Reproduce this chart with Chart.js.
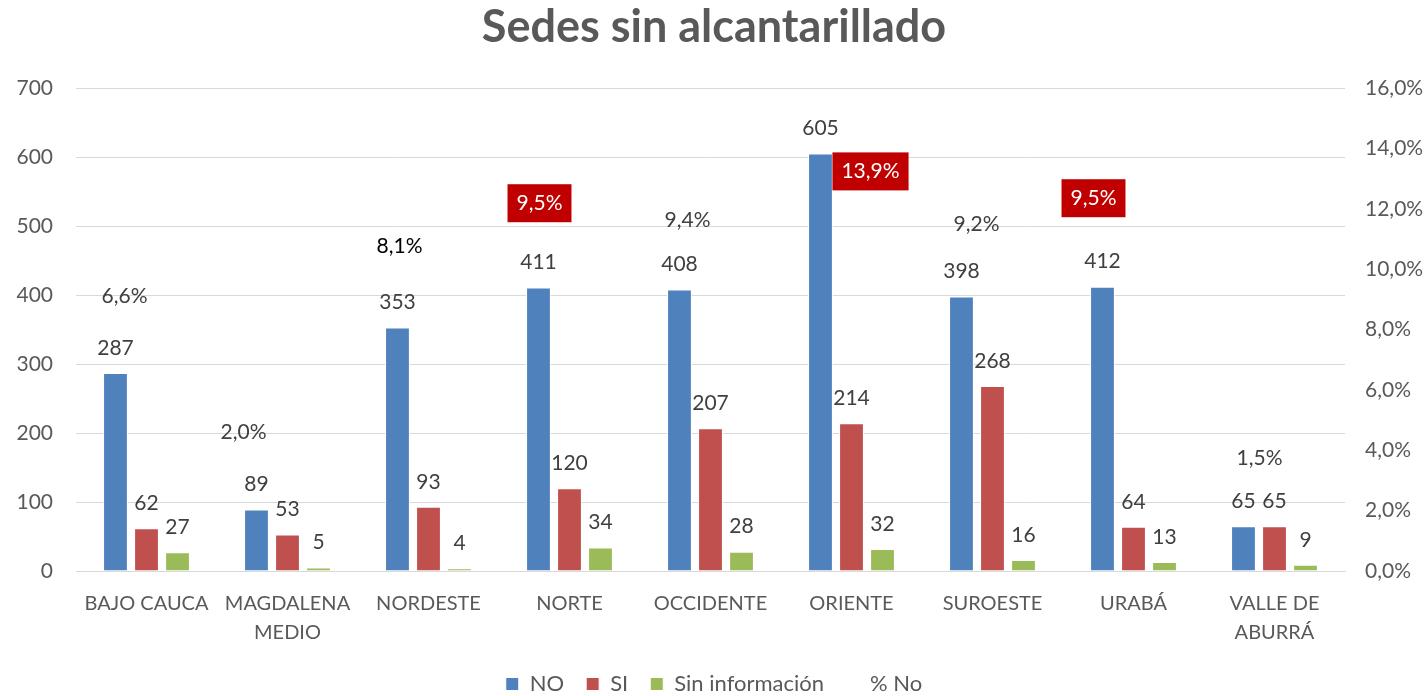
<!DOCTYPE html>
<html>
<head>
<meta charset="utf-8">
<script src="https://cdn.jsdelivr.net/npm/chart.js@4.4.1/dist/chart.umd.min.js"></script>
<style>
  body { margin: 0; background: #fff; }
</style>
</head>
<body>
<canvas id="grafico-sedes" width="1428" height="696"></canvas>
<script>
// Datos
const categorias = ['BAJO CAUCA', ['MAGDALENA', 'MEDIO'], 'NORDESTE', 'NORTE', 'OCCIDENTE', 'ORIENTE', 'SUROESTE', 'URABÁ', ['VALLE DE', 'ABURRÁ']];
const valoresNo = [287, 89, 353, 411, 408, 605, 398, 412, 65];
const valoresSi = [62, 53, 93, 120, 207, 214, 268, 64, 65];
const valoresSinInfo = [27, 5, 4, 34, 28, 32, 16, 13, 9];
const porcentajeNo = [6.6, 2.0, 8.1, 9.5, 9.4, 13.9, 9.2, 9.5, 1.5];
const ticksIzquierda = [0, 100, 200, 300, 400, 500, 600, 700];
const ticksDerecha = [0, 2, 4, 6, 8, 10, 12, 14, 16];

// Estilo de las etiquetas de % (resaltadas en rojo y desplazamiento manual como en Excel)
const resaltados = [false, false, false, true, false, true, false, true, false];
const desplazamientoPct = [[-22, -76], [-44, -78], [-29, -80], [-30, -81], [-23, -67], [19, 20], [-16, -69], [-40, -86], [-15, -67]];
const colorPct = ['#404040', '#404040', '#000000', '#fff', '#404040', '#fff', '#404040', '#fff', '#404040'];

const fuente = 'Lato, "Open Sans", sans-serif';

// Plugin para dibujar las etiquetas de datos
const etiquetasDatos = {
    id: 'etiquetasDatos',
    afterDatasetsDraw(chart) {
        const c = chart.ctx;
        c.save();
        c.font = '21px ' + fuente;
        c.textAlign = 'center';
        c.textBaseline = 'middle';
        chart.data.datasets.forEach((ds, i) => {
            const meta = chart.getDatasetMeta(i);
            if (ds.type === 'line') {
                meta.data.forEach((pt, j) => {
                    const texto = porcentajeNo[j].toFixed(1).replace('.', ',') + '%';
                    const x = pt.x + desplazamientoPct[j][0];
                    const y = pt.y + desplazamientoPct[j][1];
                    if (resaltados[j]) {
                        const w = c.measureText(texto).width + 18;
                        c.fillStyle = '#C00000';
                        c.fillRect(x - w / 2, y - 19, w, 38);
                    }
                    c.fillStyle = colorPct[j];
                    c.fillText(texto, x, y);
                });
            } else {
                c.fillStyle = '#404040';
                meta.data.forEach((barra, j) => {
                    c.fillText(ds.data[j], barra.x, barra.y - 25);
                });
            }
        });
        c.restore();
    }
};

const ctx = document.getElementById('grafico-sedes').getContext('2d');
const graficoSedes = new Chart(ctx, {
    type: 'bar',
    data: {
        labels: categorias,
        datasets: [
            { label: 'NO', data: valoresNo, backgroundColor: '#4F81BD', borderColor: '#fff', borderWidth: 1, yAxisID: 'y' },
            { label: 'SI', data: valoresSi, backgroundColor: '#C0504D', borderColor: '#fff', borderWidth: 1, yAxisID: 'y' },
            { label: 'Sin información', data: valoresSinInfo, backgroundColor: '#9BBB59', borderColor: '#fff', borderWidth: 1, yAxisID: 'y' },
            {
                type: 'line', label: '% No', data: porcentajeNo, yAxisID: 'y1',
                showLine: false, pointRadius: 0, borderColor: 'rgba(0,0,0,0)', backgroundColor: 'rgba(0,0,0,0)'
            }
        ]
    },
    options: {
        responsive: false,
        animation: false,
        layout: { padding: { left: 0, right: 0, top: 0, bottom: -9 } },
        datasets: {
            bar: { barPercentage: 0.8, categoryPercentage: 0.66 }
        },
        scales: {
            x: {
                grid: { display: false },
                border: { color: '#D9D9D9', width: 1 },
                afterFit: s => { s.height = 80; },
                ticks: { color: '#595959', font: { size: 20, family: fuente, lineHeight: 1.45 }, padding: 10, maxRotation: 0, autoSkip: false }
            },
            y: {
                min: 0, max: 700,
                afterBuildTicks: s => { s.ticks = ticksIzquierda.map(v => ({ value: v })); },
                afterFit: s => { s.width = 76; },
                grid: { color: '#D9D9D9', lineWidth: 1, drawTicks: false },
                border: { display: false },
                ticks: { color: '#595959', font: { size: 21, family: fuente }, padding: 23 }
            },
            y1: {
                position: 'right',
                min: 0, max: 16,
                afterBuildTicks: s => { s.ticks = ticksDerecha.map(v => ({ value: v })); },
                afterFit: s => { s.width = 83; },
                grid: { display: false, drawTicks: false },
                border: { display: false },
                ticks: {
                    color: '#595959', font: { size: 21, family: fuente }, padding: 20,
                    callback: v => v.toFixed(1).replace('.', ',') + '%'
                }
            }
        },
        plugins: {
            title: {
                display: true,
                text: 'Sedes sin alcantarillado',
                color: '#595959',
                font: { size: 45, weight: 'bold', family: fuente, lineHeight: 1.2 },
                padding: { top: 0, bottom: 34 }
            },
            legend: {
                position: 'bottom',
                labels: {
                    color: '#595959', font: { size: 22, family: fuente },
                    boxWidth: 13, boxHeight: 13, padding: 22
                }
            },
            tooltip: { enabled: false }
        }
    },
    plugins: [etiquetasDatos]
});
</script>
</body>
</html>
